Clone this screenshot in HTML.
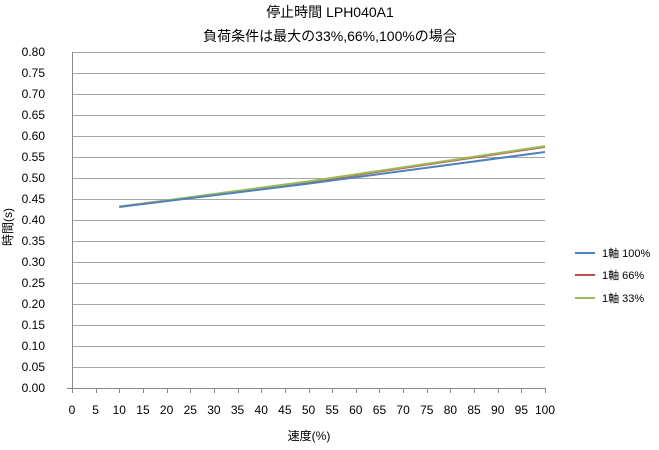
<!DOCTYPE html>
<html><head><meta charset="utf-8"><style>
body{margin:0;background:#fff}
text{font-family:"Liberation Sans","Noto Sans CJK JP",sans-serif;fill:#000}
</style></head><body>
<svg width="659" height="445" xmlns="http://www.w3.org/2000/svg">
<text x="330" y="17" font-size="14" text-anchor="middle">停止時間 LPH040A1</text>
<text x="330" y="41" font-size="14" text-anchor="middle">負荷条件は最大の33%,66%,100%の場合</text>
<g stroke="#a6a6a6" stroke-width="1">
<line x1="72" y1="52.5" x2="545" y2="52.5"/><line x1="72" y1="73.5" x2="545" y2="73.5"/><line x1="72" y1="94.5" x2="545" y2="94.5"/><line x1="72" y1="115.5" x2="545" y2="115.5"/><line x1="72" y1="136.5" x2="545" y2="136.5"/><line x1="72" y1="157.5" x2="545" y2="157.5"/><line x1="72" y1="178.5" x2="545" y2="178.5"/><line x1="72" y1="199.5" x2="545" y2="199.5"/><line x1="72" y1="220.5" x2="545" y2="220.5"/><line x1="72" y1="241.5" x2="545" y2="241.5"/><line x1="72" y1="262.5" x2="545" y2="262.5"/><line x1="72" y1="283.5" x2="545" y2="283.5"/><line x1="72" y1="304.5" x2="545" y2="304.5"/><line x1="72" y1="325.5" x2="545" y2="325.5"/><line x1="72" y1="346.5" x2="545" y2="346.5"/><line x1="72" y1="367.5" x2="545" y2="367.5"/>
<line x1="67" y1="388.5" x2="545" y2="388.5" stroke="#888"/>
<line x1="72.5" y1="52" x2="72.5" y2="392" stroke="#888"/>
</g>
<g id="ticks" stroke="#888"></g>
<g font-size="12" text-anchor="end" id="yl"></g>
<g font-size="12" text-anchor="middle" id="xl"></g>
<polyline fill="none" stroke="#c0504d" stroke-width="2" points="119.3,206.6 308.5,182.2 545,146.9"/>
<polyline fill="none" stroke="#9bbb59" stroke-width="2" points="119.3,206.6 308.5,181.4 545,146.1"/>
<polyline fill="none" stroke="#4f81bd" stroke-width="2" points="119.3,207 308.5,183.6 545,152"/>
<text x="20" y="235" font-size="12" transform="rotate(-90 12 235)" text-anchor="middle">時間(s)</text>
<text x="309" y="440" font-size="12" text-anchor="middle">速度(%)</text>
<line x1="575" y1="253" x2="595" y2="253" stroke="#4f81bd" stroke-width="2"/>
<text x="602" y="257" font-size="11">1軸 100%</text>
<line x1="575" y1="275" x2="595" y2="275" stroke="#c0504d" stroke-width="2"/>
<text x="602" y="279" font-size="11">1軸 66%</text>
<line x1="575" y1="298" x2="595" y2="298" stroke="#9bbb59" stroke-width="2"/>
<text x="602" y="302" font-size="11">1軸 33%</text>
<script>
var ns="http://www.w3.org/2000/svg";
var yl=document.getElementById('yl'),xl=document.getElementById('xl'),tk=document.getElementById('ticks');
for(var i=0;i<=16;i++){var t=document.createElementNS(ns,'text');t.setAttribute('x',45);t.setAttribute('y',388-i*21+4);t.textContent=(i*0.05).toFixed(2);yl.appendChild(t);}
for(var j=0;j<=20;j++){var x=72+j*23.65;var t=document.createElementNS(ns,'text');t.setAttribute('x',x);t.setAttribute('y',414);t.textContent=j*5;xl.appendChild(t);
var l=document.createElementNS(ns,'line');l.setAttribute('x1',Math.round(x)+.5);l.setAttribute('x2',Math.round(x)+.5);l.setAttribute('y1',388);l.setAttribute('y2',393);tk.appendChild(l);}
</script>
</svg>
</body></html>
